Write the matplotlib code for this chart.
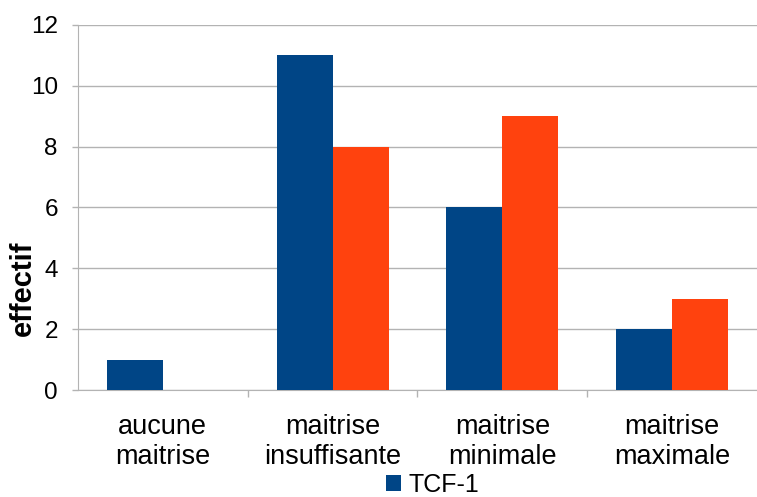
import matplotlib.pyplot as plt
import numpy as np

plt.rcParams['font.family'] = ['Liberation Sans', 'DejaVu Sans']

categories = ['aucune\nmaitrise', 'maitrise\ninsuffisante', 'maitrise\nminimale', 'maitrise\nmaximale']
tcf1 = [1, 11, 6, 2]
serie2 = [0, 8, 9, 3]

x = np.arange(len(categories))
width = 0.33

fig = plt.figure(figsize=(7.57, 4.97), dpi=100)
ax = fig.add_axes([0.103, 0.215, 0.897, 0.735])

ax.bar(x - width / 2, tcf1, width, color='#004586', label='TCF-1', zorder=3)
ax.bar(x + width / 2, serie2, width, color='#ff420e', zorder=3)

ax.set_xlim(-0.5, len(categories) - 0.5)
ax.set_ylim(0, 12)
ax.set_yticks(range(0, 13, 2))
ax.yaxis.grid(True, color='#b3b3b3', linewidth=1, zorder=0)

ax.set_xticks(x)
ax.set_xticklabels(categories, fontsize=19.5, linespacing=1.2)
ax.tick_params(axis='x', which='major', length=0, pad=17)
ax.set_xticks(np.arange(0.5, len(categories) - 0.5, 1), minor=True)
ax.tick_params(axis='x', which='minor', length=5, color='#b3b3b3', width=1)
ax.tick_params(axis='y', length=4.5, color='#b3b3b3', width=1, labelsize=17.5, pad=10)

for side in ['top', 'right']:
    ax.spines[side].set_visible(False)
for side in ['left', 'bottom']:
    ax.spines[side].set_color('#b3b3b3')

# axis title sits lower than the plot centre
fig.text(23 / 757, 1 - 288 / 497, 'effectif', rotation=90, fontsize=21,
         fontweight='bold', ha='center', va='center')

fig.legend(loc='center', bbox_to_anchor=(433 / 757, 1 - 485 / 497), frameon=False,
           fontsize=18, handlelength=0.6, handleheight=0.6, handletextpad=0.3,
           borderpad=0, borderaxespad=0)

fig.savefig('out.png', dpi=100)
